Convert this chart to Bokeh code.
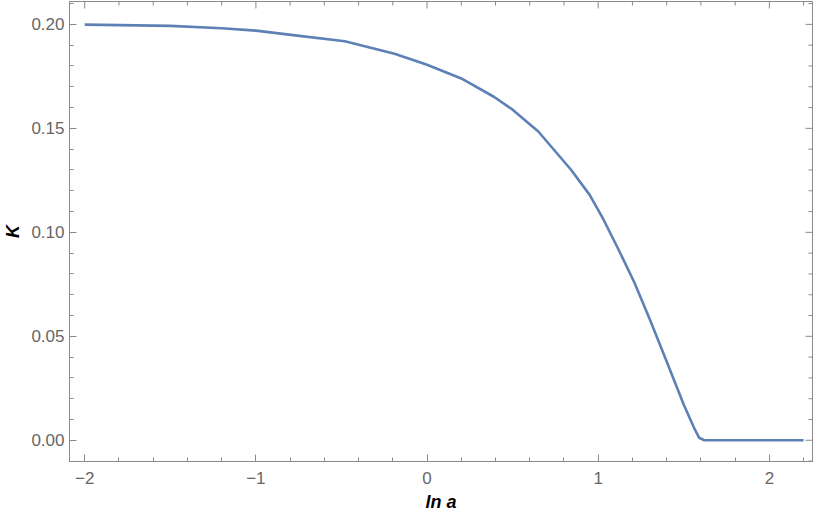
import math
from bokeh.plotting import figure
from bokeh.models import Range1d, LinearAxis, FixedTicker
from bokeh.embed import file_html
from bokeh.resources import INLINE

# ---- data ----
ln_a = [-2.0, -1.5, -1.2, -1.0, -0.77, -0.48, -0.19, 0.0, 0.2, 0.39, 0.5,
        0.65, 0.84, 0.95, 1.03, 1.12, 1.21, 1.30, 1.40, 1.50, 1.56, 1.59,
        1.62, 2.2]
K = [0.1999, 0.1993, 0.1981, 0.1970, 0.1947, 0.1919, 0.1859, 0.1806, 0.1740,
     0.1652, 0.1590, 0.1485, 0.1302, 0.1180, 0.1063, 0.0915, 0.0761, 0.0585,
     0.0379, 0.0171, 0.0060, 0.0012, 0.0, 0.0]

x_ticks = [-2, -1, 0, 1, 2]
x_tick_labels = ["\u22122", "\u22121", "0", "1", "2"]
y_ticks = [0.0, 0.05, 0.10, 0.15, 0.20]
y_tick_labels = ["0.00", "0.05", "0.10", "0.15", "0.20"]
x_minor = [round(-2.2 + 0.2 * i, 2) for i in range(24)]
y_minor = [round(-0.01 + 0.01 * i, 2) for i in range(23)]
x_title = "ln a"
y_title = "K"

X_LO, X_HI = -2.089, 2.252
Y_LO, Y_HI = -0.0102, 0.211

FRAME = "#8a8a8a"
LABEL = "#666666"
FONT = "Liberation Sans"

p = figure(width=814, height=514, output_backend="svg", toolbar_location=None,
           x_range=Range1d(X_LO, X_HI), y_range=Range1d(Y_LO, Y_HI),
           x_axis_location=None, y_axis_location=None,
           min_border_top=1, min_border_right=2, min_border_left=0, min_border_bottom=0)
p.grid.visible = False
p.outline_line_color = FRAME
p.outline_line_width = 1
p.background_fill_color = "white"
p.border_fill_color = "white"

p.line(ln_a, K, line_color="#5E81B5", line_width=2.6, line_join="round")

# mirrored (inward) ticks on the top and right edges of the frame
top_x = [t for t in x_minor if t not in set(x_ticks)]
right_y = [t for t in y_minor if t not in set(y_ticks)]
p.scatter(x_ticks, [Y_HI] * len(x_ticks), marker="dash", size=14, angle=math.pi / 2,
          line_color=FRAME, line_width=1)
p.scatter(top_x, [Y_HI] * len(top_x), marker="dash", size=8, angle=math.pi / 2,
          line_color=FRAME, line_width=1)
p.scatter([X_HI] * len(y_ticks), y_ticks, marker="dash", size=14,
          line_color=FRAME, line_width=1)
p.scatter([X_HI] * len(right_y), right_y, marker="dash", size=8,
          line_color=FRAME, line_width=1)


def style(ax, ticks, minor, labels):
    ax.ticker = FixedTicker(ticks=ticks, minor_ticks=minor)
    ax.axis_line_color = FRAME
    ax.axis_line_width = 1
    ax.major_tick_line_color = FRAME
    ax.minor_tick_line_color = FRAME
    ax.major_tick_in = 7
    ax.major_tick_out = 0
    ax.minor_tick_in = 4
    ax.minor_tick_out = 0
    ax.major_label_text_font = FONT
    ax.major_label_text_color = LABEL
    ax.major_label_overrides = {t: l for t, l in zip(ticks, labels)}
    ax.major_label_text_font_size = "17px"
    ax.axis_label_text_font = FONT
    ax.axis_label_text_font_style = "bold italic"
    ax.axis_label_text_font_size = "18px"
    ax.axis_label_text_color = "black"


bottom = LinearAxis(axis_label=x_title)
style(bottom, x_ticks, x_minor, x_tick_labels)
bottom.major_label_standoff = 10
bottom.axis_label_standoff = 5
left = LinearAxis(axis_label=y_title)
style(left, y_ticks, y_minor, y_tick_labels)
left.major_label_standoff = 5
left.axis_label_standoff = 5

p.add_layout(bottom, "below")
p.add_layout(left, "left")

open("out.html", "w").write(file_html(p, INLINE))
